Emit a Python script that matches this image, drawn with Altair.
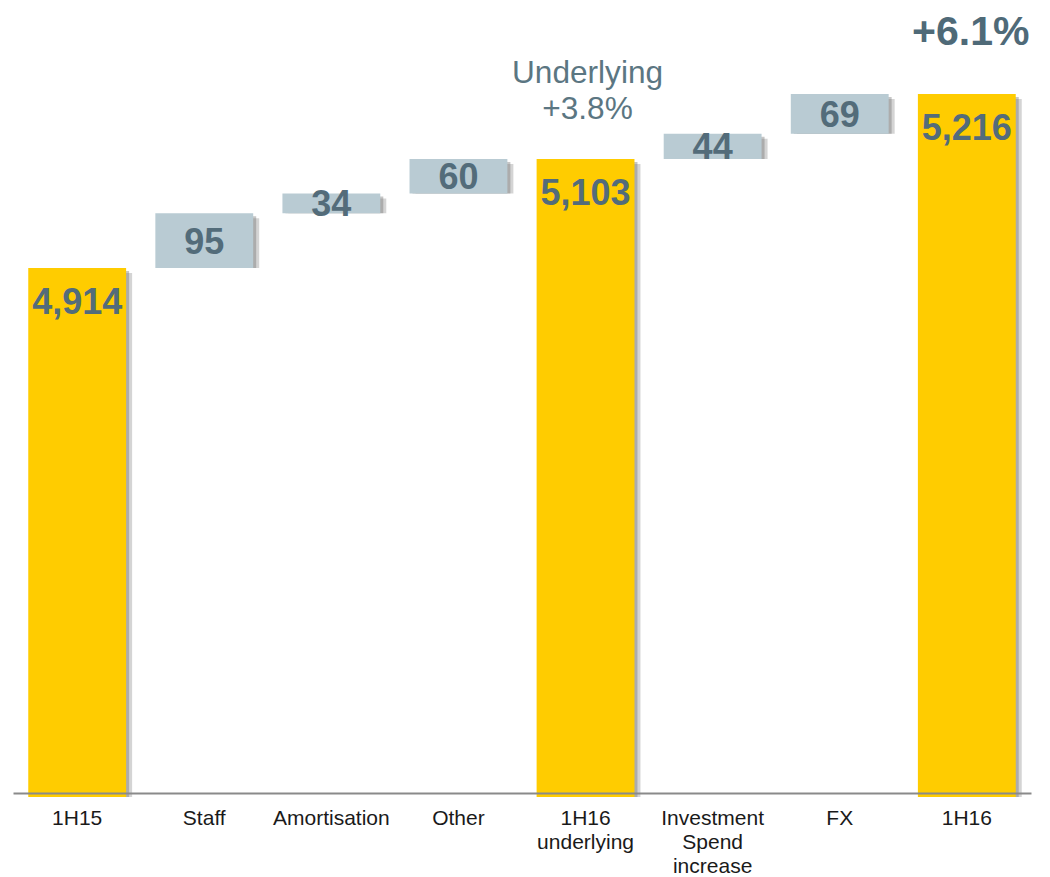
import altair as alt
import pandas as pd

categories = ["1H15", "Staff", "Amortisation", "Other", "1H16\nunderlying",
              "Investment\nSpend\nincrease", "FX", "1H16"]
values = [4914, 95, 34, 60, 5103, 44, 69, 5216]
kinds = ["total", "delta", "delta", "delta", "total", "delta", "delta", "total"]
labels = ["4,914", "95", "34", "60", "5,103", "44", "69", "5,216"]

ann_cats = ["1H16\nunderlying", "1H16"]
ann_texts = ["Underlying\n+3.8%", "+6.1%"]

base_value = 3996
starts, ends = [], []
running = 0
for v, k in zip(values, kinds):
    if k == "total":
        starts.append(base_value)
        ends.append(v)
        running = v
    else:
        starts.append(running)
        ends.append(running + v)
        running += v

df = pd.DataFrame(dict(cat=categories, start=starts, end=ends, kind=kinds, label=labels))
df["mid"] = (df["start"] + df["end"]) / 2

YEL = "#FFCC00"
GRY = "#B9CBD3"
TXT = "#536C7A"

xenc = alt.X("cat:N", sort=categories,
             scale=alt.Scale(paddingInner=0.23, paddingOuter=0.12),
             axis=alt.Axis(title=None, labelAngle=0, labelExpr="split(datum.label, '\\n')",
                           ticks=False, domainColor="#8a8a8a", domainWidth=2,
                           labelFontSize=21, labelColor="#1a1a1a", labelFont="Liberation Sans",
                           labelPadding=14, labelLineHeight=24, labelOverlap=False,
                           labelLimit=0, zindex=1))
yscale = alt.Scale(domain=[4003, 5365], zero=False, nice=False)
yenc = alt.Y("end:Q", scale=yscale, axis=None)

base = alt.Chart(df)

shadow1 = base.mark_bar(color="#707070", opacity=0.3, xOffset=6, yOffset=5).encode(
    x=xenc, y=yenc, y2="start:Q")
shadow2 = base.mark_bar(color="#707070", opacity=0.4, xOffset=3, yOffset=3).encode(
    x=xenc, y=yenc, y2="start:Q")

bars = base.mark_bar().encode(
    x=xenc, y=yenc, y2="start:Q",
    color=alt.Color("kind:N", scale=alt.Scale(domain=["total", "delta"], range=[YEL, GRY]), legend=None),
)

txt_tot = base.transform_filter(alt.datum.kind == "total").mark_text(
    font="Liberation Sans", fontWeight="bold", fontSize=36, color=TXT,
    baseline="middle", dy=35).encode(x=xenc, y=yenc, text="label:N")

txt_del = base.transform_filter(alt.datum.kind == "delta").mark_text(
    font="Liberation Sans", fontWeight="bold", fontSize=36, color=TXT,
    baseline="middle", dy=2).encode(x=xenc, y=alt.Y("mid:Q", scale=yscale, axis=None), text="label:N")

ann_df = pd.DataFrame(dict(cat=ann_cats, text=ann_texts))
ann1 = alt.Chart(ann_df.iloc[[0]]).mark_text(
    font="Liberation Sans", fontSize=31.6, color="#5B7682", lineBreak="\n", lineHeight=36,
    baseline="middle", dx=2).encode(x=xenc, y=alt.value(66), text="text:N")
ann2 = alt.Chart(ann_df.iloc[[1]]).mark_text(
    font="Liberation Sans", fontSize=41, fontWeight="bold", color="#4F6A78",
    baseline="middle", dx=4).encode(x=xenc, y=alt.value(25), text="text:N")

chart = alt.layer(shadow1, shadow2, bars, txt_tot, txt_del, ann1, ann2).properties(
    width=1018, height=785,
    autosize=alt.AutoSizeParams(type="none"),
    padding={"left": 5, "top": 0, "right": 10, "bottom": 84},
).configure_view(stroke=None)

chart.save("out.html", embed_options={"renderer": "svg", "actions": False})
